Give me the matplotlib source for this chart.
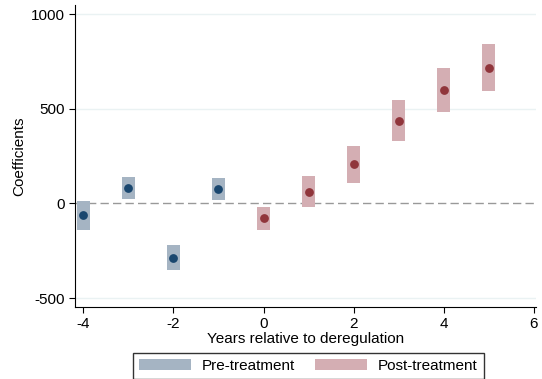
import matplotlib
matplotlib.use("Agg")
import matplotlib.pyplot as plt
from matplotlib.patches import Patch

plt.rcParams['font.family'] = ['Liberation Sans', 'DejaVu Sans']
plt.rcParams['axes.unicode_minus'] = False

# event-study estimates
pre_years = [-4, -3, -2, -1]
pre_coef = [-61, 83, -286, 77]
pre_lo = [-140, 24, -351, 18]
pre_hi = [13, 141, -219, 135]

post_years = [0, 1, 2, 3, 4, 5]
post_coef = [-78, 62, 207, 436, 600, 717]
post_lo = [-140, -17, 110, 327, 485, 596]
post_hi = [-18, 145, 304, 547, 714, 843]

pre_box = '#a5b4c3'
pre_dot = '#1a476f'
post_box = '#d4aeb3'
post_dot = '#90353b'

fig = plt.figure(figsize=(5.42, 3.79), dpi=100)
ax = fig.add_axes([0.138, 0.191, 0.851, 0.796])

w = 0.28
for x, lo, hi in zip(pre_years, pre_lo, pre_hi):
    ax.bar(x, hi - lo, bottom=lo, width=w, color=pre_box, linewidth=0, zorder=2)
for x, lo, hi in zip(post_years, post_lo, post_hi):
    ax.bar(x, hi - lo, bottom=lo, width=w, color=post_box, linewidth=0, zorder=2)
ax.scatter(pre_years, pre_coef, s=40, color=pre_dot, zorder=3, linewidths=0)
ax.scatter(post_years, post_coef, s=40, color=post_dot, zorder=3, linewidths=0)

ax.axhline(0, color='#999999', lw=1, ls=(0, (6, 3)), zorder=1)
for g in [-500, 500, 1000]:
    ax.axhline(g, color='#eaf2f3', lw=1, zorder=0)

ax.set_xlim(-4.19, 6.05)
ax.set_ylim(-545, 1048)
ax.set_xticks([-4, -2, 0, 2, 4, 6])
ax.set_yticks([-500, 0, 500, 1000])
ax.spines['top'].set_visible(False)
ax.spines['right'].set_visible(False)
ax.tick_params(labelsize=11, length=4, color='black')
ax.set_xlabel('Years relative to deregulation', fontsize=11, labelpad=1)
ax.set_ylabel('Coefficients', fontsize=11, labelpad=3)

handles = [Patch(facecolor=pre_box, label='Pre-treatment'),
           Patch(facecolor=post_box, label='Post-treatment')]
leg = fig.legend(handles=handles, loc='upper center', bbox_to_anchor=(0.569, 0.069),
                 ncol=2, frameon=True, fancybox=False, edgecolor='black',
                 fontsize=11, handlelength=3.4, handleheight=0.75,
                 handletextpad=0.7, columnspacing=1.3, borderpad=0.4,
                 borderaxespad=0)
leg.get_frame().set_linewidth(1)

fig.savefig('out.png', dpi=100)
